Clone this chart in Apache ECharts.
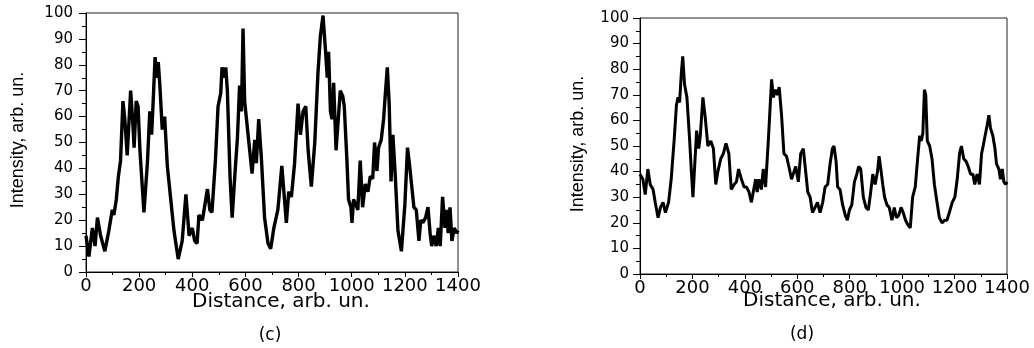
<!DOCTYPE html>
<html>
<head>
  <meta charset="UTF-8">
  <script src="https://cdn.jsdelivr.net/npm/echarts@6/dist/echarts.min.js"></script>
  <style>
    html, body { margin: 0; padding: 0; background: #fff; }
    #main { width: 1034px; height: 348px; }
  </style>
</head>
<body>
  <div id="main"></div>
  <script>
    // profile (c): [distance, intensity]
    var profileC = [
      [0, 14], [11, 6], [24, 17], [34, 10], [43, 21], [55, 14], [71, 8], [86, 16],
      [99, 24], [105, 22], [114, 28], [122, 37], [130, 43], [139, 66], [146, 59],
      [155, 45], [168, 70], [177, 56], [181, 48], [189, 66], [196, 64], [203, 47],
      [218, 23], [231, 42], [240, 62], [247, 53], [252, 64], [260, 83], [266, 75],
      [272, 81], [278, 72], [287, 55], [296, 60], [306, 41], [322, 25], [331, 16],
      [347, 5], [362, 12], [376, 30], [388, 14], [400, 17], [409, 12], [418, 11],
      [425, 22], [438, 20], [457, 32], [466, 24], [474, 23], [487, 43], [497, 64],
      [507, 69], [512, 79], [520, 75], [526, 79], [532, 70], [542, 37], [550, 21],
      [560, 37], [570, 52], [578, 72], [585, 62], [591, 94], [597, 66], [607, 56],
      [616, 47], [625, 38], [635, 51], [641, 42], [650, 59], [660, 44], [672, 21],
      [685, 11], [695, 9], [707, 17], [722, 24], [737, 41], [754, 19], [763, 31],
      [773, 29], [785, 42], [798, 65], [807, 53], [817, 62], [827, 64], [836, 47],
      [848, 33], [861, 50], [873, 77], [882, 91], [892, 99], [901, 86], [908, 75],
      [913, 85], [920, 62], [926, 59], [932, 73], [941, 47], [948, 57], [957, 70],
      [966, 68], [972, 64], [982, 43], [988, 28], [997, 25], [1001, 19], [1007, 28],
      [1016, 26], [1023, 24], [1032, 43], [1041, 25], [1051, 34], [1061, 31],
      [1070, 37], [1079, 36], [1086, 50], [1095, 39], [1101, 48], [1111, 51],
      [1120, 59], [1126, 68], [1134, 79], [1141, 65], [1148, 35], [1155, 53],
      [1164, 37], [1174, 16], [1187, 8], [1200, 26], [1210, 48], [1218, 41],
      [1225, 34], [1234, 25], [1243, 24], [1253, 12], [1260, 20], [1268, 19],
      [1278, 21], [1287, 25], [1295, 15], [1301, 10], [1310, 14], [1318, 10],
      [1326, 17], [1333, 10], [1342, 29], [1351, 17], [1357, 24], [1363, 15],
      [1370, 25], [1377, 12], [1386, 17], [1395, 15], [1400, 16]
    ];

    // profile (d): [distance, intensity]
    var profileD = [
      [0, 39], [11, 37], [20, 31], [30, 41], [39, 35], [50, 33], [58, 28], [69, 22],
      [78, 26], [88, 28], [97, 24], [109, 28], [119, 37], [130, 52], [139, 66],
      [145, 69], [151, 67], [158, 79], [163, 85], [170, 74], [179, 69], [189, 53],
      [196, 40], [202, 30], [209, 30], [216, 56], [224, 49], [230, 54], [240, 69],
      [249, 61], [259, 50], [270, 52], [280, 49], [289, 35], [297, 40], [308, 45],
      [318, 47], [328, 51], [339, 47], [348, 33], [359, 35], [368, 36], [376, 41],
      [387, 37], [397, 34], [406, 34], [416, 32], [425, 28], [432, 28], [441, 37],
      [447, 32], [454, 37], [463, 33], [470, 41], [479, 34], [490, 53], [502, 76],
      [509, 69], [515, 72], [524, 70], [531, 73], [540, 62], [549, 47], [559, 46],
      [570, 41], [578, 37], [585, 37], [594, 42], [604, 36], [613, 47], [623, 49],
      [632, 40], [640, 32], [649, 30], [658, 24], [668, 26], [677, 28], [687, 24],
      [697, 28], [706, 34], [716, 35], [725, 43], [734, 49], [740, 50], [748, 44],
      [754, 34], [763, 33], [773, 27], [783, 23], [791, 21], [799, 25], [808, 27],
      [818, 36], [827, 39], [834, 42], [842, 41], [852, 30], [862, 26], [871, 25],
      [880, 32], [888, 39], [897, 35], [906, 40], [912, 46], [920, 40], [926, 35],
      [933, 30], [942, 27], [951, 26], [961, 21], [970, 26], [978, 22], [987, 23],
      [996, 26], [1004, 24], [1013, 21], [1023, 19], [1031, 18], [1040, 30],
      [1050, 34], [1059, 45], [1067, 54], [1073, 52], [1079, 55], [1085, 72],
      [1090, 70], [1096, 52], [1105, 50], [1114, 45], [1123, 35], [1133, 28],
      [1142, 22], [1152, 20], [1163, 21], [1171, 21], [1180, 24], [1191, 28],
      [1201, 30], [1210, 37], [1219, 47], [1226, 50], [1235, 45], [1244, 44],
      [1252, 42], [1261, 39], [1270, 39], [1277, 35], [1286, 39], [1295, 35],
      [1303, 47], [1309, 50], [1315, 50], [1324, 58], [1331, 62], [1337, 57],
      [1346, 54], [1354, 49], [1360, 43], [1369, 41], [1375, 37], [1382, 41],
      [1388, 36], [1395, 35], [1400, 36]
    ];

    var xTitle = 'Distance, arb. un.';
    var yTitle = 'Intensity, arb. un.';
    var panelLabels = ['(c)', '(d)'];

    var myChart = echarts.init(document.getElementById('main'));

    function plain(v) { return String(v); }

    function xAxisOpt(gridIndex) {
      return {
        type: 'value', gridIndex: gridIndex, min: 0, max: 1400, interval: 200,
        axisLine: { lineStyle: { color: '#000', width: 1 } },
        axisTick: { length: 5, lineStyle: { color: '#000' } },
        minorTick: { show: true, splitNumber: 2, length: 3, lineStyle: { color: '#000' } },
        splitLine: { show: false },
        axisLabel: { color: '#000', fontFamily: 'DejaVu Sans', fontSize: 18, margin: 5, formatter: plain }
      };
    }
    function yAxisOpt(gridIndex, margin) {
      return {
        type: 'value', gridIndex: gridIndex, min: 0, max: 100, interval: 10,
        axisLine: { show: true, lineStyle: { color: '#000', width: 1 } },
        axisTick: { show: true, length: 7, lineStyle: { color: '#000' } },
        minorTick: { show: true, splitNumber: 2, length: 4, lineStyle: { color: '#000' } },
        splitLine: { show: false },
        axisLabel: { color: '#000', fontFamily: 'DejaVu Sans', fontSize: 15, margin: margin, formatter: plain }
      };
    }
    function txt(x, y, s, size, family, rot) {
      return {
        type: 'text', x: x, y: y, rotation: rot || 0,
        style: { text: s, fill: '#000', font: size + 'px "' + family + '"', textAlign: 'center', textVerticalAlign: 'middle' }
      };
    }

    myChart.setOption({
      animation: false,
      grid: [
        { left: 86, top: 13, width: 372, height: 259, show: true, borderColor: '#222', borderWidth: 1 },
        { left: 640, top: 18, width: 367, height: 256, show: true, borderColor: '#222', borderWidth: 1 }
      ],
      xAxis: [xAxisOpt(0), xAxisOpt(1)],
      yAxis: [yAxisOpt(0, 13), yAxisOpt(1, 11)],
      series: [
        { type: 'line', xAxisIndex: 0, yAxisIndex: 0, data: profileC, showSymbol: false,
          lineStyle: { color: '#000', width: 3.4 } },
        { type: 'line', xAxisIndex: 1, yAxisIndex: 1, data: profileD, showSymbol: false,
          lineStyle: { color: '#000', width: 3 } }
      ],
      graphic: [
        txt(281, 302, xTitle, 20, 'DejaVu Sans'),
        txt(832, 301, xTitle, 20, 'DejaVu Sans'),
        txt(18, 140, yTitle, 18, 'Liberation Sans', Math.PI / 2),
        txt(578, 144, yTitle, 18, 'Liberation Sans', Math.PI / 2),
        txt(270, 336, panelLabels[0], 17, 'DejaVu Sans'),
        txt(802, 335, panelLabels[1], 17, 'DejaVu Sans')
      ]
    });
  </script>
</body>
</html>
